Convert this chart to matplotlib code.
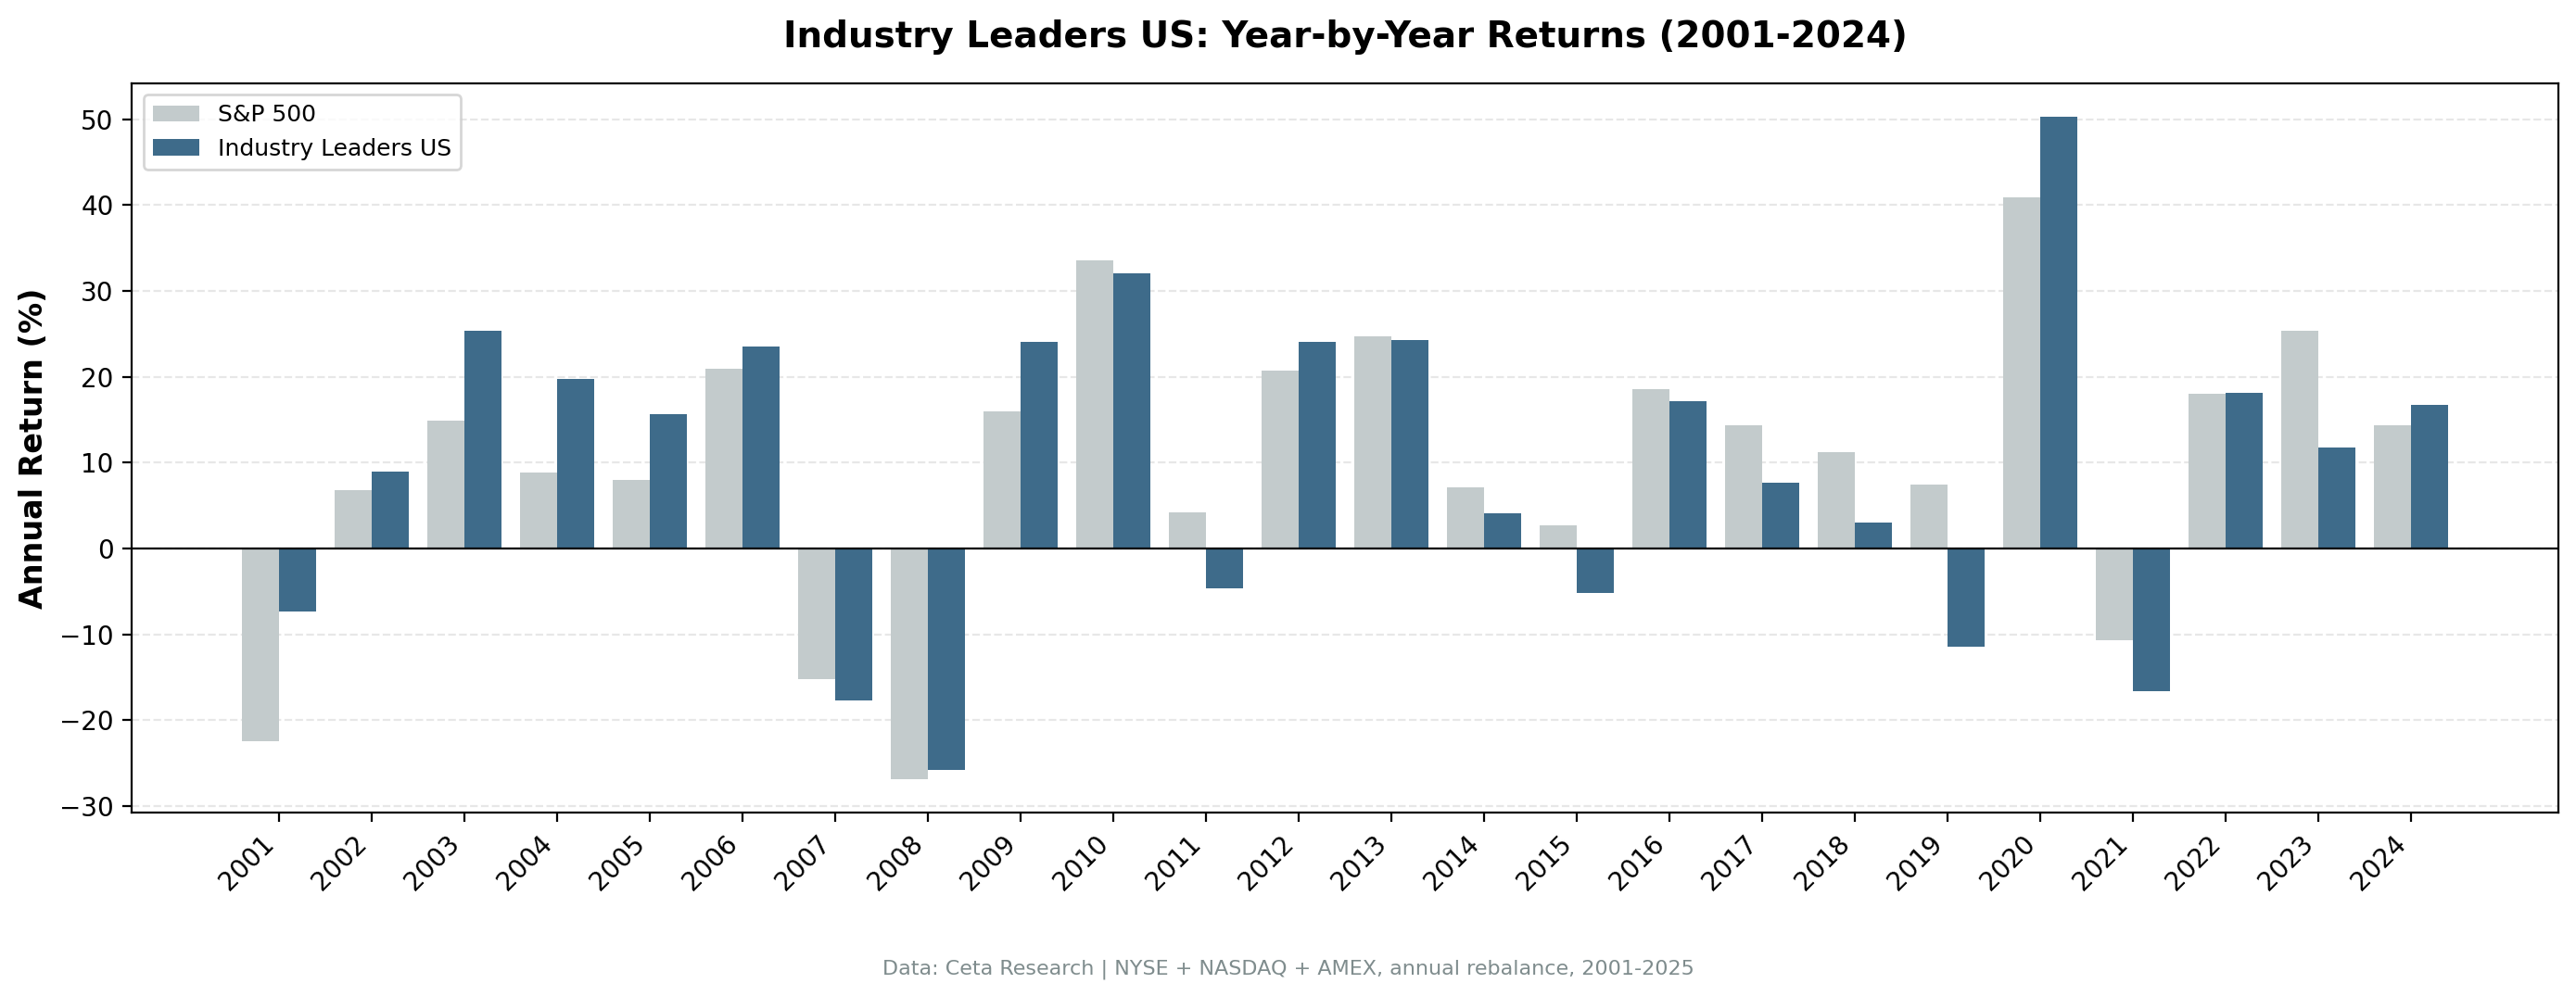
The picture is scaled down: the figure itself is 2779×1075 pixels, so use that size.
import numpy as np
from matplotlib import pyplot as plt

years = list(range(2001, 2025))
sp500 = [-22.4, 6.8, 14.9, 8.8, 8.0, 20.9, -15.2, -26.9, 16.0, 33.5, 4.2, 20.7,
         24.7, 7.1, 2.7, 18.6, 14.3, 11.2, 7.4, 40.9, -10.7, 18.0, 25.3, 14.3]
leaders = [-7.3, 9.0, 25.3, 19.7, 15.6, 23.5, -17.7, -25.8, 24.0, 32.0, -4.7, 24.0,
           24.3, 4.1, -5.2, 17.1, 7.7, 3.0, -11.5, 50.3, -16.6, 18.1, 11.8, 16.7]

x = np.arange(len(years))
width = 0.4

fig, ax = plt.subplots(figsize=(13.895, 5.375), dpi=200)
fig.subplots_adjust(left=0.0511, right=0.9932, top=0.9163, bottom=0.1842)

ax.bar(x - width / 2, sp500, width, color='#c3cbcc', label='S&P 500')
ax.bar(x + width / 2, leaders, width, color='#3e6b8a', label='Industry Leaders US')

ax.axhline(0, color='black', linewidth=0.8)
ax.set_xticks(x)
ax.set_xticklabels(years, rotation=45, ha='right', fontsize=10)
ax.tick_params(axis='y', labelsize=10)
ax.set_ylabel('Annual Return (%)', fontsize=12, fontweight='bold')
ax.set_title('Industry Leaders US: Year-by-Year Returns (2001-2024)',
             fontsize=14, fontweight='bold', pad=14)
ax.grid(axis='y', linestyle='--', alpha=0.3)
ax.set_axisbelow(True)
ax.legend(loc='upper left', fontsize=9)

fig.text(0.5, 0.022, 'Data: Ceta Research | NYSE + NASDAQ + AMEX, annual rebalance, 2001-2025',
         ha='center', fontsize=8, color='#7f8c8d')

plt.savefig('out.png')
